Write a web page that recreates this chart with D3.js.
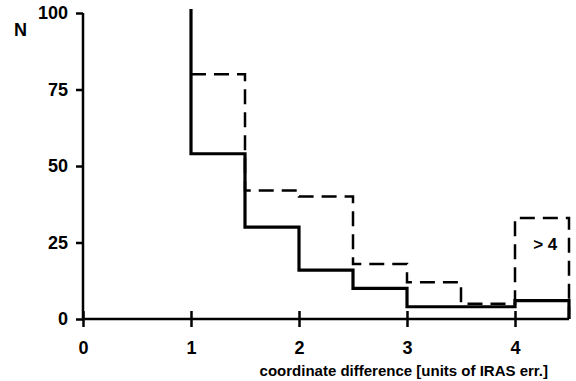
<!DOCTYPE html>
<html>
<head>
<meta charset="utf-8">
<script src="https://cdn.jsdelivr.net/npm/d3@7"></script>
<style>
  body { margin: 0; background: #fff; }
  text { font-family: "Liberation Sans", Arial, sans-serif; font-weight: bold; }
</style>
</head>
<body>
<svg width="576" height="381"></svg>
<script>
// bin left edges (units of IRAS err.), bins are 0.5 wide
const binStarts = [0.5, 1, 1.5, 2, 2.5, 3, 3.5, 4];
// solid histogram: first bin runs off the top of the plot
const solidCounts = [140, 54, 30, 16, 10, 4, 4, 6];
// dashed histogram starts at 1
const dashedStarts = [1, 1.5, 2, 2.5, 3, 3.5, 4];
const dashedCounts = [80, 42, 40, 18, 12, 5, 33];
const xTicks = [0, 1, 2, 3, 4];
const yTicks = [0, 25, 50, 75, 100];

const svg = d3.select('svg');
const margin = { top: 13, right: 7, bottom: 62, left: 83 };
const width = +svg.attr('width');
const height = +svg.attr('height');
const innerWidth = width - margin.left - margin.right;
const innerHeight = height - margin.top - margin.bottom;

const xScale = d3.scaleLinear().domain([0, 4.5]).range([0, innerWidth]);
const yScale = d3.scaleLinear().domain([0, 100]).range([innerHeight, 0]);

const g = svg.append('g')
    .attr('transform', `translate(${margin.left}, ${margin.top})`);

//clip so the tall first bin runs just a little over 100
svg.append('clipPath').attr('id', 'plotclip')
  .append('rect')
    .attr('x', 0).attr('y', -4)
    .attr('width', innerWidth + 5).attr('height', innerHeight + 6);

//turn bins into step points, ending back at zero
function stepPoints(starts, counts) {
  const pts = starts.map((s, i) => [s, counts[i]]);
  const end = starts[starts.length - 1] + 0.5;
  pts.push([end, counts[counts.length - 1]]);
  pts.push([end, 0]);
  return pts;
}

const line = d3.line()
    .x(d => xScale(d[0]))
    .y(d => yScale(d[1]))
    .curve(d3.curveStepAfter);

//dashed histogram
g.append('path')
    .attr('clip-path', 'url(#plotclip)')
    .datum(stepPoints(dashedStarts, dashedCounts))
    .attr('d', line)
    .attr('fill', 'none')
    .attr('stroke', '#000')
    .attr('stroke-width', 2.5)
    .attr('stroke-dasharray', '15,8');

//y axis
const yAxis = g.append('g')
    .call(d3.axisLeft(yScale).tickValues(yTicks).tickFormat(d3.format('d')).tickSize(7).tickPadding(8));
yAxis.select('.domain').attr('d', `M0,${innerHeight}V0`).attr('stroke-width', 2.5);
yAxis.selectAll('.tick line').attr('stroke-width', 2.5);
yAxis.selectAll('.tick text')
    .attr('font-size', 18).attr('fill', '#000')
    .attr('font-family', '"Liberation Sans", Arial, sans-serif')
    .attr('font-weight', 'bold');

//x axis, ticks cross the line
const xAxis = g.append('g')
    .attr('transform', `translate(0, ${innerHeight})`)
    .call(d3.axisBottom(xScale).tickValues(xTicks).tickFormat(d3.format('d')).tickSize(8).tickPadding(14));
xAxis.select('.domain').attr('d', `M0,0H${innerWidth}`).attr('stroke-width', 2.5);
xAxis.selectAll('.tick line').attr('y1', -8).attr('stroke-width', 2.5);
xAxis.selectAll('.tick text')
    .attr('font-size', 18).attr('fill', '#000')
    .attr('font-family', '"Liberation Sans", Arial, sans-serif')
    .attr('font-weight', 'bold');

//solid histogram on top
g.append('path')
    .attr('clip-path', 'url(#plotclip)')
    .datum(stepPoints(binStarts, solidCounts))
    .attr('d', line)
    .attr('fill', 'none')
    .attr('stroke', '#000')
    .attr('stroke-width', 3.2);

//labels
svg.append('text')
    .attr('x', 14).attr('y', 36)
    .attr('font-size', 18)
    .text('N');

g.append('text')
    .attr('x', xScale(4.28)).attr('y', yScale(22.5))
    .attr('text-anchor', 'middle')
    .attr('font-size', 17)
    .text('> 4');

svg.append('text')
    .attr('x', 548).attr('y', 376)
    .attr('text-anchor', 'end')
    .attr('font-size', 15)
    .text('coordinate difference [units of IRAS err.]');
</script>
</body>
</html>
